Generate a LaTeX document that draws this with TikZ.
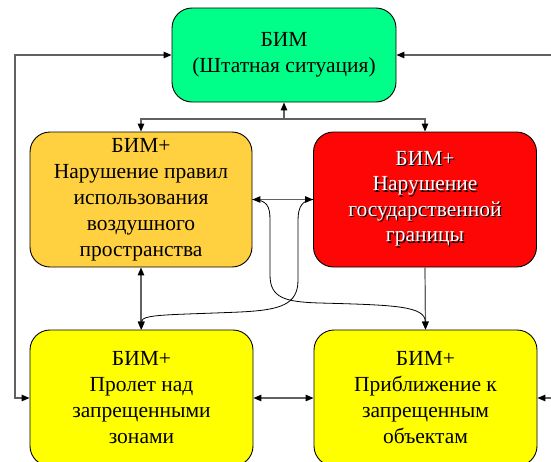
\documentclass[tikz,border=0pt]{standalone}
\usepackage{fontspec}
\setmainfont{Liberation Serif}
\newfontfamily\boxfont{Liberation Serif}
\usetikzlibrary{arrows.meta}
\definecolor{bgreen}{RGB}{0,255,136}
\definecolor{borange}{RGB}{255,208,64}
\definecolor{bred}{RGB}{255,6,6}
\definecolor{byellow}{RGB}{255,255,0}
\newcommand\shd[1]{\makebox[0pt][l]{\kern1.3pt\raisebox{-1.5pt}{\textcolor{black}{#1}}}\textcolor{white}{#1}}
\tikzset{
  box/.style={draw=black, line width=0.9pt, rounded corners=20pt, align=center,
    inner sep=0pt, font=\boxfont\fontsize{21.5}{26}\selectfont},
  redbox/.style={box, font=\boxfont\fontsize{21.5}{25.5}\selectfont},
  conn/.style={draw=black!62, line width=1.2pt,
    >={Triangle[length=8pt,width=6.5pt,color=black]}},
  curv/.style={draw=black, line width=0.8pt,
    >={Triangle[length=8pt,width=6.5pt,color=black]}}
}
\begin{document}
\begin{tikzpicture}[x=1pt,y=-1pt]
\useasboundingbox (0,0) rectangle (551,461);
% boxes
\node[box, fill=bgreen, minimum width=224pt, minimum height=94pt] (g) at (284,55)
  {БИМ\\(Штатная ситуация)};
\node[box, fill=borange, minimum width=222pt, minimum height=135pt] (o) at (141,199.5)
  {БИМ+\\Нарушение правил\\использования\\воздушного\\пространства};
\node[redbox, fill=bred, minimum width=223pt, minimum height=135pt] (r) at (425,199.5)
  {\shd{БИМ+}\\\shd{Нарушение}\\\shd{государственной}\\\shd{границы}};
\node[box, fill=byellow, minimum width=223pt, minimum height=136pt] (bl) at (141.5,398)
  {БИМ+\\Пролет над\\запрещенными\\зонами};
\node[box, fill=byellow, minimum width=223pt, minimum height=136pt] (brr) at (425.5,398)
  {БИМ+\\Приближение к\\запрещенным\\объектам};
% helper coordinates
\coordinate (lx) at (15,0);
\coordinate (rx) at (565,0);
\coordinate (br) at (283,119);
% outer loops
\draw[conn,<->] (g.west) -- (g.west -| lx) -- (bl.west -| lx) -- (bl.west);
\draw[conn,<->] (g.east) -- (g.east -| rx) -- (brr.east -| rx) -- (brr.east);
% branch from top box
\draw[conn,->] (br) -- (g.south |- br) -- (g.south);
\draw[conn,->] (br) -| (o.north);
\draw[conn,->] (br) -| (r.north);
% vertical and horizontal links
\draw[conn,<->] (o.south) -- (o.south |- bl.north);
\draw[conn,<->] (o.east) -- (r.west);
\draw[conn,<->] (bl.east) -- (brr.west);
\draw[conn,->] (r.south) -- (brr.north);
% crossing curves
\draw[curv,->] (o.east) .. controls (267,200) and (270,206) .. (270,220)
  -- (270,275) .. controls (270,298) and (285,302) .. (320,303)
  .. controls (395,305) and (425,306) .. (brr.north);
\draw[curv,->] (r.west) .. controls (303,200) and (298,206) .. (298,220)
  -- (298,280) .. controls (298,305) and (280,310) .. (240,312)
  .. controls (170,315) and (141.5,314) .. (bl.north);
\end{tikzpicture}
\end{document}
